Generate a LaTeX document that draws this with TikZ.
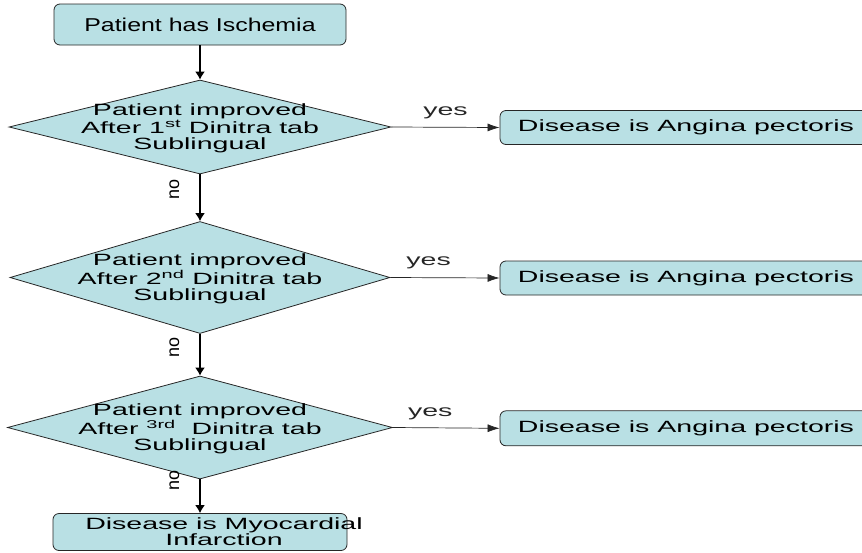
\documentclass[tikz,border=0pt]{standalone}
\usepackage{fontspec}
\setmainfont{Liberation Sans}[FakeStretch=1.75]
\newfontfamily\topfont{Liberation Sans}[FakeStretch=1.34]
\newfontfamily\plainfont{Liberation Sans}
\usetikzlibrary{shapes.geometric,arrows.meta}
\definecolor{boxcyan}{RGB}{185,224,228}

\begin{document}
\begin{tikzpicture}[x=1pt,y=-1pt]
\tikzstyle{box}=[draw=black!85,line width=0.8pt,fill=boxcyan,rounded corners=6pt,inner sep=0pt,align=center,font=\fontsize{16.3}{16.2}\selectfont]
\tikzstyle{dia}=[draw=black!85,line width=0.8pt,fill=boxcyan,diamond,inner sep=0pt]
\tikzstyle{dtext}=[font=\fontsize{16.3}{16.2}\selectfont,align=center,inner sep=0pt]
\tikzstyle{down}=[-{Latex[length=8pt,width=10pt]},line width=1.4pt]
\tikzstyle{yesline}=[-{Latex[length=12pt,width=8pt]},line width=0.7pt,black!85]
\tikzstyle{yeslab}=[above=8pt,inner sep=0pt,font=\fontsize{16.3}{16.2}\selectfont]
\tikzstyle{nolab}=[left=20pt,inner sep=0pt,font=\plainfont\fontsize{18}{18}\selectfont]
\useasboundingbox (0,0) rectangle (862,552);
\clip (0,0) rectangle (862,552);
\node[box,minimum width=292pt,minimum height=41pt,font=\topfont\fontsize{18.6}{20}\selectfont](s) at (200,24.5) {Patient has Ischemia};
\node[dia,minimum width=382pt,minimum height=94pt,label={[dtext,yshift=-1.5pt]center:{Patient improved\\After 1\textsuperscript{st} Dinitra tab\\Sublingual}}](d1) at (200,127) {};
\node[dia,minimum width=380pt,minimum height=112pt,label={[dtext,yshift=-1.5pt]center:{Patient improved\\After 2\textsuperscript{nd} Dinitra tab\\Sublingual}}](d2) at (200,277.5) {};
\node[dia,minimum width=385pt,minimum height=103pt,label={[dtext,yshift=-1.5pt]center:{Patient improved\\After \textsuperscript{3rd}\ \ Dinitra tab\\Sublingual}}](d3) at (200,427.5) {};
\node[box,minimum width=372pt,minimum height=34pt](a1) at (686,127.5) {Disease is Angina pectoris};
\node[box,minimum width=372pt,minimum height=34pt](a2) at (686,278) {Disease is Angina pectoris};
\node[box,minimum width=372pt,minimum height=35pt](a3) at (686,428.3) {Disease is Angina pectoris};
\node[box,minimum width=294pt,minimum height=37pt,label={[dtext,xshift=24pt,font=\fontsize{16.3}{12}\selectfont]center:{Disease is Myocardial\\Infarction}}](mi) at (200,532) {};
% flow down
\draw[down] (s.south) -- (d1.north);
\draw[down] (d1.south) -- node[nolab,pos=0.33]{\rotatebox{90}{no}} (d2.north);
\draw[down] (d2.south) -- node[nolab,pos=0.32]{\rotatebox{90}{no}} (d3.north);
\draw[down] (d3.south) -- node[nolab,pos=0.03]{\rotatebox{90}{no}} (mi.north);
% yes branches
\draw[yesline] (d1.east) -- node[yeslab,pos=0.5]{yes} (a1.west);
\draw[yesline] (d2.east) -- node[yeslab,pos=0.35]{yes} (a2.west);
\draw[yesline] (d3.east) -- node[yeslab,pos=0.35]{yes} (a3.west);
\end{tikzpicture}
\end{document}
